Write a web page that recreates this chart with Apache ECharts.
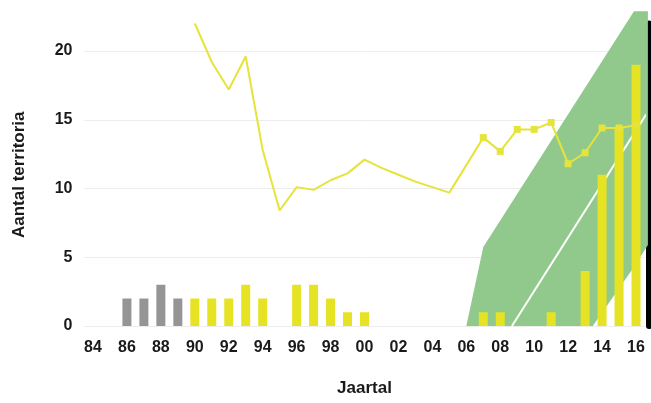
<!DOCTYPE html>
<html>
<head>
<meta charset="utf-8">
<script src="https://cdn.jsdelivr.net/npm/echarts@6/dist/echarts.min.js"></script>
<style>html,body{margin:0;padding:0;background:#fff}#c{width:651px;height:403px}</style>
</head>
<body>
<div id="c"></div>
<script>
// Years 1984..2016
const years = [1984,1985,1986,1987,1988,1989,1990,1991,1992,1993,1994,1995,1996,1997,1998,1999,2000,2001,2002,2003,2004,2005,2006,2007,2008,2009,2010,2011,2012,2013,2014,2015,2016];
// Grey bars (early counts)
const greyBars = [null,null,2,2,3,2,null,null,null,null,null,null,null,null,null,null,null,null,null,null,null,null,null,null,null,null,null,null,null,null,null,null,null];
// Yellow bars
const yellowBars = [null,null,null,null,null,null,2,2,2,3,2,0,3,3,2,1,1,0,0,0,0,0,0,1,1,0,0,1,0,4,11,14.5,19];
// Yellow line (territories)
const lineValues = [null,null,null,null,null,null,22,19.2,17.2,19.6,12.8,8.4,10.1,9.9,10.6,11.1,12.1,11.5,11.0,10.5,10.1,9.7,11.7,13.7,12.7,14.3,14.3,14.8,11.8,12.6,14.4,14.4,14.6];
const markerFromYear = 2007;
// Green band (prediction range) on continuous year scale
const bandYears = [2006, 2007, 2013.45, 2015.88, 2016.7];
const bandLower = [0, 0, 0, 4.3, 5.9];
const bandUpper = [0, 5.75, 18.2, 22.9, 22.9];
// White central trend line
const trendYears = [2008.69, 2016.6];
const trendValues = [0, 15.4];
// Tick labels
const xTickLabel = y => String(y).slice(2);

const chart = echarts.init(document.getElementById('c'));
const font = 'Liberation Sans, Arial, sans-serif';
const txt = '#1a1a1a';

function renderBand(params, api) {
  if (params.dataIndex !== 0) return null;
  const pts = [];
  for (let i = 0; i < bandYears.length; i++) pts.push(api.coord([bandYears[i], bandUpper[i]]));
  for (let i = bandYears.length - 1; i >= 0; i--) pts.push(api.coord([bandYears[i], bandLower[i]]));
  return { type: 'polygon', shape: { points: pts }, style: { fill: '#90c98b' } };
}

chart.setOption({
  animation: false,
  grid: { left: 84.5, right: 6.5, top: 23.5, bottom: 77 },
  xAxis: [
    {
      type: 'category', data: years,
      axisLine: { show: false }, axisTick: { show: false },
      axisLabel: { interval: 1, formatter: v => xTickLabel(v), color: txt, fontFamily: font, fontWeight: 'bold', fontSize: 16, margin: 14 },
      name: 'Jaartal', nameLocation: 'middle', nameGap: 54,
      nameTextStyle: { color: txt, fontFamily: font, fontWeight: 'bold', fontSize: 17 }
    },
    { type: 'value', min: 1983.5, max: 2016.5, show: false }
  ],
  yAxis: [
    {
      type: 'value', min: 0, max: 22, interval: 5,
      axisLine: { show: false }, axisTick: { show: false },
      splitLine: { lineStyle: { color: '#ececec', width: 1 }, showMaxLine: false },
      axisLabel: { color: txt, fontFamily: font, fontWeight: 'bold', fontSize: 16, margin: 12, showMaxLabel: false },
      name: 'Aantal territoria', nameLocation: 'middle', nameGap: 57, nameRotate: 90,
      nameTextStyle: { color: txt, fontFamily: font, fontWeight: 'bold', fontSize: 17 }
    },
    {
      type: 'value', min: 0, max: 22, position: 'right', offset: 4,
      axisLine: { show: true, lineStyle: { color: '#000', width: 6 } },
      axisTick: { show: false }, axisLabel: { show: false }, splitLine: { show: false }
    }
  ],
  series: [
    {
      name: 'band', type: 'custom', xAxisIndex: 1, yAxisIndex: 0, clip: false,
      renderItem: renderBand, data: [[bandYears[0], bandLower[0]]], z: 1, silent: true
    },
    {
      name: 'trend', type: 'line', xAxisIndex: 1, symbol: 'none', clip: false,
      data: trendYears.map((y, i) => [y, trendValues[i]]),
      lineStyle: { color: '#ffffff', width: 2 }, z: 2, silent: true
    },
    {
      name: 'grey', type: 'bar', stack: 'bars', barWidth: 9,
      data: greyBars, itemStyle: { color: '#959595' }, z: 3
    },
    {
      name: 'yellow', type: 'bar', stack: 'bars', barWidth: 9,
      data: yellowBars, itemStyle: { color: '#e6e324' }, z: 3
    },
    {
      name: 'territoria', type: 'line', clip: false,
      data: lineValues.map((v, i) => ({ value: v, symbol: years[i] >= markerFromYear ? 'rect' : 'none' })),
      symbolSize: 7, showSymbol: true,
      lineStyle: { color: '#e6e33a', width: 2 }, itemStyle: { color: '#e6e33a' }, z: 4
    }
  ]
});
</script>
</body>
</html>
